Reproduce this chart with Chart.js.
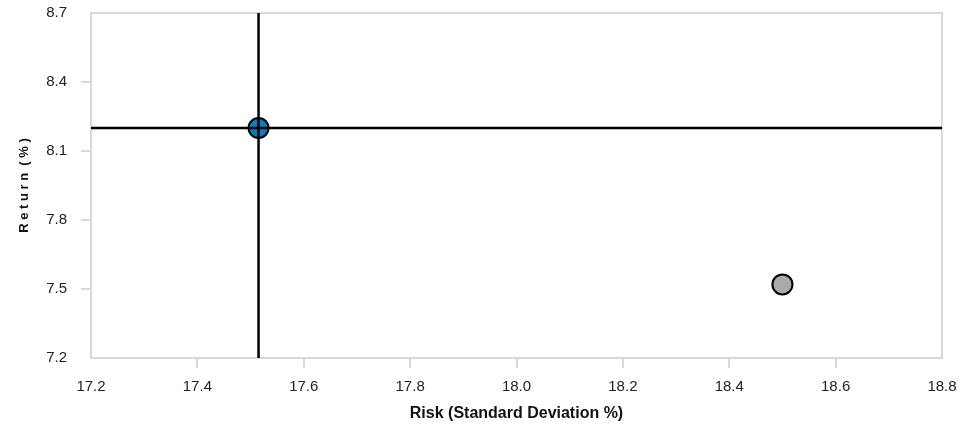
<!DOCTYPE html>
<html>
<head>
<meta charset="utf-8">
<script src="https://cdn.jsdelivr.net/npm/chart.js@4"></script>
<style>
  html, body { margin: 0; padding: 0; background: #ffffff; }
  #wrap { width: 977px; height: 427px; position: relative; }
</style>
</head>
<body>
<div id="wrap"><canvas id="chart"></canvas></div>
<script>
// Portfolios: [selected, other]
const portfolioNames = ['Selected', 'Other'];
const riskValues = [17.515, 18.5];
const returnValues = [8.2, 7.52];

// Axis ticks
const xTicks = [17.2, 17.4, 17.6, 17.8, 18.0, 18.2, 18.4, 18.6, 18.8];
const yTicks = [7.2, 7.5, 7.8, 8.1, 8.4, 8.7];

const xMin = xTicks[0], xMax = xTicks[xTicks.length - 1];
const yMin = yTicks[0], yMax = yTicks[yTicks.length - 1];

const FONT = '"Liberation Sans", Arial, Helvetica, sans-serif';
const BORDER = '#d9d9d9';

// Frame round the plot area
const frame = {
    id: 'frame',
    beforeDatasetsDraw(chart) {
        const { ctx, chartArea: a } = chart;
        ctx.save();
        ctx.strokeStyle = BORDER;
        ctx.lineWidth = 2;
        ctx.strokeRect(a.left, a.top, a.right - a.left, a.bottom - a.top);
        ctx.restore();
    }
};

// Only interior ticks get a mark
const tickMark = (ctx) => {
    const n = ctx.chart.scales[ctx.scale.id].ticks.length;
    return (ctx.index === 0 || ctx.index === n - 1) ? 'rgba(0,0,0,0)' : BORDER;
};

const setTicks = (list) => (scale) => {
    scale.ticks = list.map(v => ({ value: v }));
};

new Chart(document.getElementById('chart'), {
    type: 'scatter',
    data: {
        datasets: [
            {
                label: 'vertical',
                type: 'line',
                data: [{ x: riskValues[0], y: yMin }, { x: riskValues[0], y: yMax }],
                borderColor: '#000000',
                borderWidth: 2.5,
                pointRadius: 0,
                order: 0
            },
            {
                label: 'horizontal',
                type: 'line',
                data: [{ x: xMin, y: returnValues[0] }, { x: xMax, y: returnValues[0] }],
                borderColor: '#000000',
                borderWidth: 2.5,
                pointRadius: 0,
                order: 0
            },
            {
                label: portfolioNames[0],
                data: [{ x: riskValues[0], y: returnValues[0] }],
                backgroundColor: '#0a7fc4',
                borderColor: '#000000',
                borderWidth: 2,
                pointRadius: 10,
                order: 1
            },
            {
                label: portfolioNames[1],
                data: [{ x: riskValues[1], y: returnValues[1] }],
                backgroundColor: '#aaaaaa',
                borderColor: '#000000',
                borderWidth: 2,
                pointRadius: 10,
                order: 1
            }
        ]
    },
    options: {
        responsive: true,
        maintainAspectRatio: false,
        animation: false,
        layout: {
            padding: { left: 0, right: 35, top: 13, bottom: 0 }
        },
        plugins: {
            legend: { display: false },
            tooltip: { enabled: false }
        },
        scales: {
            x: {
                type: 'linear',
                min: xMin,
                max: xMax,
                afterBuildTicks: setTicks(xTicks),
                afterFit: (scale) => {
                    scale.height = 69;
                    scale.paddingLeft = 0;
                    scale.paddingRight = 0;
                },
                border: { display: false },
                grid: {
                    drawOnChartArea: false,
                    drawTicks: true,
                    tickLength: 10,
                    lineWidth: 2,
                    color: tickMark
                },
                ticks: {
                    color: '#222222',
                    padding: 10,
                    maxRotation: 0,
                    font: { family: FONT, size: 15 },
                    callback: (v) => Number(v).toFixed(1)
                },
                title: {
                    display: true,
                    text: 'Risk (Standard Deviation %)',
                    color: '#111111',
                    font: { family: FONT, size: 16, weight: 'bold' },
                    padding: { top: 10, bottom: 4 }
                }
            },
            y: {
                type: 'linear',
                min: yMin,
                max: yMax,
                afterBuildTicks: setTicks(yTicks),
                afterFit: (scale) => {
                    scale.width = 91;
                    scale.paddingTop = 0;
                    scale.paddingBottom = 0;
                },
                border: { display: false },
                grid: {
                    drawOnChartArea: false,
                    drawTicks: true,
                    tickLength: 10,
                    lineWidth: 2,
                    color: tickMark
                },
                ticks: {
                    color: '#222222',
                    padding: 14,
                    font: { family: FONT, size: 15 },
                    callback: (v) => Number(v).toFixed(1)
                },
                title: {
                    display: true,
                    text: 'R e t u r n  ( % )',
                    color: '#111111',
                    font: { family: FONT, size: 13, weight: 'bold' },
                    padding: { top: 17, bottom: 0 }
                }
            }
        }
    },
    plugins: [frame]
});
</script>
</body>
</html>
